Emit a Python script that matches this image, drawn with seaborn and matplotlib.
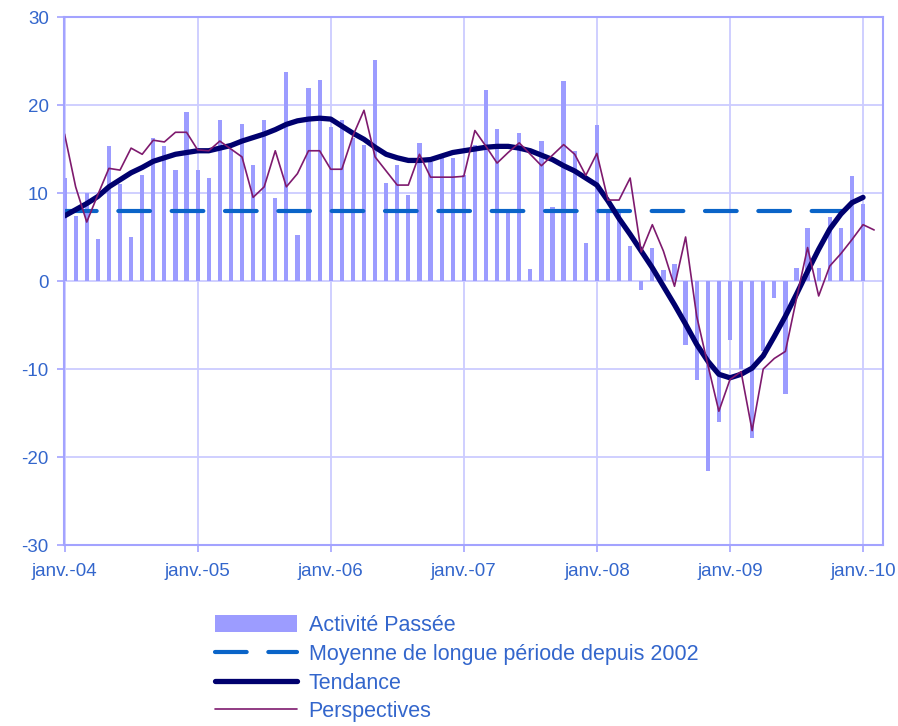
import matplotlib
matplotlib.use('Agg')
import matplotlib.pyplot as plt
import seaborn as sns

# monthly series, janv.-04 .. févr.-10 (month index 0 = janv.-04)
activite_passee = [
  11.7, 7.4, 10.0, 4.8, 15.3, 11.0, 5.0, 12.0, 16.2, 15.3, 12.6, 19.2,
  12.6, 11.7, 18.3, 15.0, 17.8, 13.2, 18.3, 9.4, 23.7, 5.2, 21.9, 22.8,
  17.5, 18.3, 16.2, 15.5, 25.1, 11.1, 13.2, 9.8, 15.7, 13.5, 14.0, 14.0,
  12.0, 15.5, 21.7, 17.3, 8.0, 16.8, 1.4, 15.9, 8.4, 22.7, 14.8, 4.3,
  17.7, 7.8, 8.0, 4.0, -1.0, 3.8, 1.3, 1.9, -7.3, -11.2, -21.6, -16.0,
  -6.7, -10.0, -17.8, -8.0, -1.9, -12.8, 1.5, 6.0, 1.5, 7.3, 6.0, 11.9,
  8.7,
]
tendance = [
  7.4, 8.1, 8.8, 9.6, 10.7, 11.5, 12.3, 12.9, 13.6, 14.0, 14.4, 14.6,
  14.8, 14.8, 15.1, 15.4, 15.9, 16.3, 16.7, 17.2, 17.8, 18.2, 18.4, 18.5,
  18.4, 17.6, 16.8, 16.1, 15.2, 14.4, 14.0, 13.7, 13.7, 13.8, 14.2, 14.6,
  14.8, 15.0, 15.2, 15.3, 15.3, 15.1, 14.8, 14.3, 13.8, 13.1, 12.5, 11.7,
  10.9, 9.1, 7.1, 5.3, 3.4, 1.5, -0.6, -2.7, -4.9, -7.2, -9.1, -10.6,
  -11.0, -10.6, -9.9, -8.5, -6.3, -4.0, -1.5, 1.1, 3.6, 5.9, 7.6, 8.9,
  9.5,
]
perspectives = [
  16.7, 10.7, 6.7, 9.8, 12.8, 12.6, 15.1, 14.4, 16.0, 15.8, 16.9, 16.9,
  14.9, 14.8, 15.9, 15.0, 14.1, 9.5, 10.7, 14.8, 10.7, 12.2, 14.8, 14.8,
  12.7, 12.7, 16.5, 19.4, 14.1, 12.5, 10.9, 10.9, 14.4, 11.8, 11.8, 11.8,
  11.9, 17.1, 15.3, 13.4, 14.6, 15.7, 14.4, 13.1, 14.3, 15.5, 14.4, 12.0,
  14.5, 9.2, 9.2, 11.7, 3.3, 6.4, 3.4, -0.6, 5.0, -4.0, -9.5, -14.8,
  -11.2, -10.3, -17.0, -10.0, -8.8, -8.0, -2.0, 3.8, -1.7, 1.7, 3.1, 4.7,
  6.4, 5.8,
]
moyenne = 7.9   # moyenne de longue période depuis 2002

tick_labels = ['janv.-04', 'janv.-05', 'janv.-06', 'janv.-07', 'janv.-08', 'janv.-09', 'janv.-10']
labels = ['Activité Passée', 'Moyenne de longue période depuis 2002', 'Tendance', 'Perspectives']

months_bar = list(range(len(activite_passee)))
months_persp = list(range(len(perspectives)))

BAR_C = '#9C9CFF'
MOY_C = '#0A64C8'
TEND_C = '#00006E'
PERSP_C = '#7E1A6E'
TXT_C = '#3366CC'
GRID_C = '#CCCCFF'
SPINE_C = '#A3A3FF'

sns.set_style('white')
plt.rcParams['font.family'] = ['Liberation Sans', 'DejaVu Sans']
plt.rcParams['axes.unicode_minus'] = False

fig = plt.figure(figsize=(8.98, 7.26), dpi=100)
ax = fig.add_axes([64 / 898, 1 - 545 / 726, (883 - 64) / 898, (545 - 17) / 726])

sns.barplot(x=months_bar, y=activite_passee, native_scale=True, width=0.38,
            color=BAR_C, saturation=1, errorbar=None, linewidth=0,
            label=labels[0], ax=ax)
sns.lineplot(x=months_bar, y=[moyenne] * len(months_bar), color=MOY_C, lw=3.0,
             dashes=False, ax=ax, label=labels[1])
ax.lines[-1].set_linestyle((0, (7.6, 5.2)))
ax.lines[-1].set_dash_capstyle('round')
sns.lineplot(x=months_bar, y=tendance, color=TEND_C, lw=3.8, ax=ax, label=labels[2])
sns.lineplot(x=months_persp, y=perspectives, color=PERSP_C, lw=1.2, ax=ax, label=labels[3])

ax.set_xlim(-0.05, 73.8)
ax.set_ylim(-30, 30)
ax.set_yticks(range(-30, 31, 10))
ax.set_xticks(range(0, 73, 12))
ax.set_xticklabels(tick_labels)
ax.set_xlabel('')
ax.set_ylabel('')

ax.set_axisbelow(True)
ax.grid(True, color=GRID_C, lw=1.3)
for s in ax.spines.values():
  s.set_color(SPINE_C)
  s.set_linewidth(1.5)
ax.tick_params(axis='both', colors=SPINE_C, labelcolor=TXT_C, labelsize=13.5,
               length=5, width=1.2, direction='out')
ax.tick_params(axis='x', pad=8)
ax.tick_params(axis='y', pad=6)
ax.tick_params(bottom=True, left=True)

h, l = ax.get_legend_handles_labels()
if ax.get_legend() is not None:
  ax.get_legend().remove()
order = [l.index(lab) for lab in labels]
fig.legend([h[i] for i in order], [l[i] for i in order],
           loc='upper left', bbox_to_anchor=(215 / 898, 1 - 615 / 726),
           frameon=False, borderpad=0, borderaxespad=0,
           handlelength=3.8, handleheight=0.85, handletextpad=0.55,
           labelspacing=0.36, labelcolor=TXT_C,
           prop={'family': ['Liberation Sans', 'DejaVu Sans'], 'size': 15.5})

fig.savefig('out.png', dpi=100)
